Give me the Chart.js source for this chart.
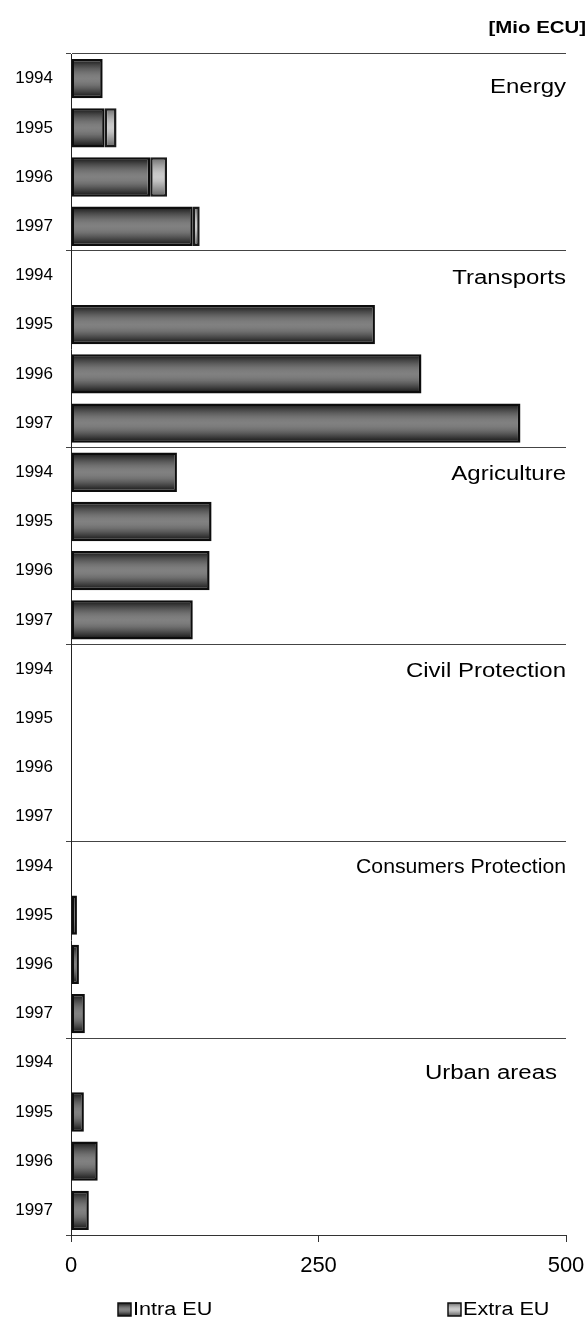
<!DOCTYPE html>
<html>
<head>
<meta charset="utf-8">
<title>Funding by sector</title>
<script src="https://cdn.jsdelivr.net/npm/chart.js@4"></script>
<style>
    html, body { margin: 0; padding: 0; background: #fff; }
    #wrap { position: relative; width: 588px; height: 1331px; }
</style>
</head>
<body>
<div id="wrap"><canvas id="fundsChart"></canvas></div>
<script>
// Sectors and years (each sector gets one row per year)
const sectors = ['Energy', 'Transports', 'Agriculture', 'Civil Protection', 'Consumers Protection', 'Urban areas'];
const years = ['1994', '1995', '1996', '1997'];

// Mio ECU, per sector, 1994..1997 (null = nothing spent)
const energyIntra = [32, 34, 80, 123];
const energyExtra = [null, 12, 17, 7];
const transportsIntra = [null, 307, 354, 454];
const agricultureIntra = [107, 142, 140, 123];
const civilIntra = [null, null, null, null];
const consumersIntra = [null, 6, 8, 14];
const urbanIntra = [null, 13, 27, 18];

const xTicks = [0, 250, 500];

const labels = sectors.flatMap(() => years);
const intraEU = [].concat(energyIntra, transportsIntra, agricultureIntra, civilIntra, consumersIntra, urbanIntra);
const noExtra = [null, null, null, null];
const extraEU = [].concat(energyExtra, noExtra, noExtra, noExtra, noExtra, noExtra);

const FONT = "'Liberation Sans', Arial, sans-serif";
const BAR_PCT = 0.8;
const STRETCH = 1.2;

const intraStops = ['#111', '#2e2e2e', '#484848', '#5e5e5e', '#707070', '#7c7c7c', '#818181', '#7c7c7c', '#707070', '#5c5c5c', '#444', '#2a2a2a', '#111'];
const extraStops = ['#6a6a6a', '#858585', '#a0a0a0', '#b6b6b6', '#c6c6c6', '#cbcbcb', '#c2c2c2', '#ababab', '#939393', '#7a7a7a', '#666'];

function stripes(ctx2d, top, h, stops) {
    const g = ctx2d.createLinearGradient(0, top, 0, top + h);
    stops.forEach((c, i) => g.addColorStop(i / (stops.length - 1), c));
    return g;
}

// gradient per bar, so the bands run across each bar's own height
function barFill(stops) {
    return function(ctx) {
        const chart = ctx.chart;
        if (!chart.chartArea || ctx.dataIndex === undefined) return stops[5];
        const yScale = chart.scales.y;
        const mid = yScale.getPixelForValue(ctx.dataIndex);
        const h = yScale.height / labels.length * BAR_PCT;
        return stripes(chart.ctx, mid - h / 2, h, stops);
    };
}

// text drawn a little wider than the font's own proportions
function wideText(c, text, x, y, align, maxWidth) {
    c.save();
    c.translate(x, y);
    c.scale(STRETCH, 1);
    c.textAlign = align;
    if (maxWidth) c.fillText(text, 0, 0, maxWidth / STRETCH);
    else c.fillText(text, 0, 0);
    c.restore();
}

// sector names, unit and legend
const annotations = {
    id: 'annotations',
    afterDraw(chart) {
        const c = chart.ctx;
        const area = chart.chartArea;
        const yScale = chart.scales.y;
        const dy = [9, 3, 2, 2, 2, 11];
        const dx = [0, 0, 0, 0, 0, -9];

        c.save();
        c.fillStyle = '#000';
        c.textBaseline = 'middle';
        c.font = '20px ' + FONT;
        sectors.forEach((name, g) => {
            const y = yScale.getPixelForValue(g * years.length) + dy[g];
            wideText(c, name, area.right + dx[g], y, 'right', 210);
        });

        c.font = 'bold 17px ' + FONT;
        wideText(c, '[Mio ECU]', 586, 28, 'right');

        // legend
        const items = [
            { x: 118, stops: intraStops, text: chart.data.datasets[0].label },
            { x: 448, stops: extraStops, text: chart.data.datasets[1].label }
        ];
        c.font = '18px ' + FONT;
        items.forEach(it => {
            const top = 1303, size = 13;
            c.fillStyle = stripes(c, top, size, it.stops);
            c.fillRect(it.x, top, size, size);
            c.strokeStyle = '#111';
            c.lineWidth = 1.5;
            c.strokeRect(it.x, top, size, size);
            c.fillStyle = '#000';
            wideText(c, it.text, it.x + size + 2, top + size / 2 + 1, 'left');
        });
        c.restore();
    }
};

const ctx = document.getElementById('fundsChart').getContext('2d');
const fundsChart = new Chart(ctx, {
    type: 'bar',
    data: {
        labels: labels,
        datasets: [{
            label: 'Intra EU',
            data: intraEU,
            backgroundColor: barFill(intraStops),
            borderColor: '#0d0d0d',
            borderWidth: 2.5,
            borderSkipped: false,
            barPercentage: BAR_PCT,
            categoryPercentage: 1
        }, {
            label: 'Extra EU',
            data: extraEU,
            backgroundColor: barFill(extraStops),
            borderColor: '#1a1a1a',
            borderWidth: 2.5,
            borderSkipped: false,
            barPercentage: BAR_PCT,
            categoryPercentage: 1
        }]
    },
    options: {
        indexAxis: 'y',
        responsive: true,
        maintainAspectRatio: false,
        animation: false,
        layout: { padding: { top: 54, right: 22, bottom: 0, left: 0 } },
        plugins: {
            legend: { display: false },
            tooltip: { enabled: false }
        },
        scales: {
            x: {
                stacked: true,
                min: xTicks[0],
                max: xTicks[xTicks.length - 1],
                afterBuildTicks: scale => { scale.ticks = xTicks.map(v => ({ value: v })); },
                ticks: {
                    color: '#000',
                    font: { family: FONT, size: 22 },
                    padding: 11,
                    maxRotation: 0
                },
                grid: { drawOnChartArea: false, drawTicks: true, tickLength: 7, color: '#333' },
                border: { color: '#333', width: 1 },
                afterFit: scale => {
                    scale.height = 96;
                    // the "500" label may run past the plot edge
                    scale.paddingLeft = 0;
                    scale.paddingRight = 0;
                }
            },
            y: {
                stacked: true,
                ticks: {
                    color: '#000',
                    font: { family: FONT, size: 17 },
                    padding: 13,
                    autoSkip: false
                },
                grid: {
                    // only the lines between sectors are drawn
                    color: c => (c.index === undefined || c.index % years.length === 0) ? '#444' : 'rgba(0,0,0,0)',
                    tickLength: 5,
                    drawTicks: true
                },
                border: { color: '#222', width: 1 },
                afterFit: scale => { scale.width = 71; }
            }
        }
    },
    plugins: [annotations]
});
</script>
</body>
</html>
